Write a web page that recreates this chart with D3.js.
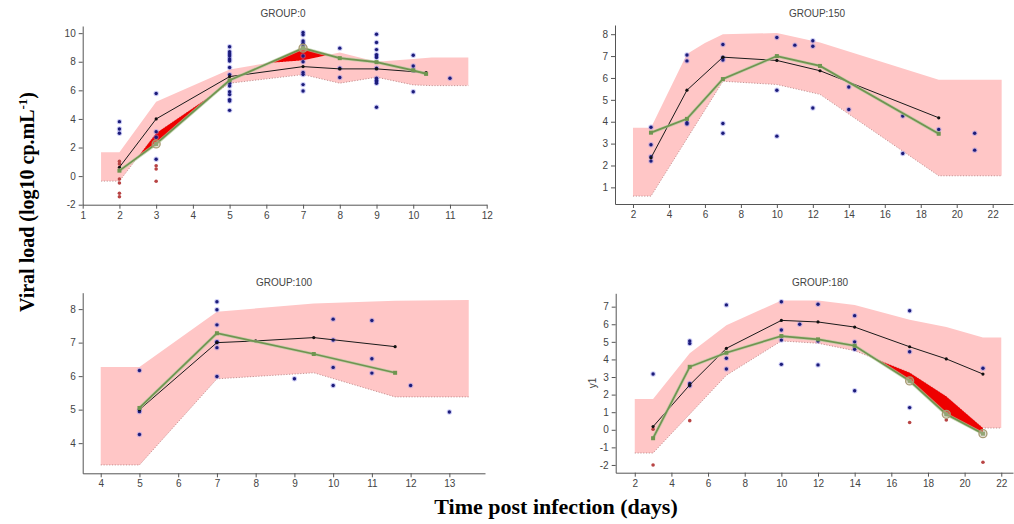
<!DOCTYPE html>
<html>
<head>
<meta charset="utf-8">
<script src="https://cdn.jsdelivr.net/npm/d3@7"></script>
<style>
  body { margin: 0; background: #fff; }
  svg { display: block; font-family: "Liberation Sans", Arial, sans-serif; }
  .axis path, .axis line { stroke: #555; }
  .axis text { fill: #444; font-size: 10px; font-family: "Liberation Sans", Arial, sans-serif; }
  .ptitle { fill: #444; font-size: 10px; }
</style>
</head>
<body>
<svg id="chart" width="1014" height="524"></svg>
<script>
// ---- GROUP:0 ----
const g0Upper = [[1.5,1.67],[2,1.67],[3,5.2],[5,7.45],[6,7.9],[7,8.1],[8,8.65],[9,8.0],[10,8.2],[10.5,8.3],[11.5,8.3]];
const g0Lower = [[1.5,-0.35],[2,-0.35],[3,3.0],[5,6.5],[7,7.1],[8,6.5],[9,6.92],[10,6.38],[10.5,6.33],[11.5,6.33]];
const g0Median = [[2,0.62],[3,4.0],[5,6.96],[7,7.66],[8,7.5],[9,7.5],[10.35,7.24]];
const g0ObsMedian = [[2,0.38],[3,2.25],[5,6.7],[7,8.95],[8,8.25],[9,7.97],[10,7.4],[10.35,7.15]];
const g0Obs = [
  [2,[3.81,3.3,3.0]],
  [3,[5.78,3.11,2.72,1.18]],
  [5,[9.05,8.7,8.55,8.4,8.2,8.05,7.6,7.1,6.5,6.3,5.9,5.7,5.35,5.25,4.6]],
  [7,[10.05,9.88,9.45,9.3,9.1,8.4,8.0,7.25,7.1,6.4,5.95]],
  [8,[8.95,7.55,6.9]],
  [9,[9.92,9.35,8.85,8.5,8.4,8.3,7.55,6.85,6.7,6.6,6.5,4.82]],
  [10,[8.45,7.7,7.4,5.9]],
  [11,[6.85]]
];
const g0Below = [[2,[1.03,0.85,-0.2,-0.48,-1.2,-1.44]],[3,[0.72,0.5,-0.36]]];

// ---- GROUP:150 ----
const g150Upper = [[2,3.72],[3,3.72],[5,7.1],[6,7.6],[7,8.0],[10,8.05],[12.4,7.62],[19,5.92],[22.5,5.92]];
const g150Lower = [[2,0.6],[3,0.6],[7,5.85],[10,5.7],[12.4,5.25],[19,1.53],[22.5,1.53]];
const g150Median = [[3,2.35],[5,5.44],[7,6.95],[10,6.8],[12.4,6.33],[19,4.18]];
const g150ObsMedian = [[3,3.5],[5,4.13],[7,5.95],[10,7.0],[12.4,6.55],[19,3.45]];
const g150Obs = [
  [3,[3.75,2.95,2.4,2.2]],
  [5,[7.05,6.78,3.95,3.9]],
  [7,[7.53,6.93,6.82,3.92,3.47]],
  [10,[7.85,5.44,3.34]],
  [11,[7.5]],
  [12,[7.7,7.45,4.63]],
  [14,[5.59,4.56]],
  [17,[4.26,2.55]],
  [19,[3.65]],
  [21,[3.47,2.7]]
];
const g150Below = [];

// ---- GROUP:100 ----
const g100Upper = [[4,6.27],[5,6.27],[7,7.92],[9.5,8.17],[11.6,8.25],[13.5,8.27]];
const g100Lower = [[4,3.35],[5,3.35],[7,5.92],[9.5,6.1],[11.6,5.38],[13.5,5.38]];
const g100Median = [[5,5.0],[7,7.0],[8,7.05],[9.5,7.15],[11.6,6.88]];
const g100ObsMedian = [[5,5.05],[7,7.28],[9.5,6.66],[11.6,6.1]];
const g100Obs = [
  [5,[6.17,4.99,4.94,4.26]],
  [7,[8.22,7.98,7.53,7.03,7.0,6.85,5.99]],
  [9,[5.92]],
  [10,[7.7,7.08,6.26,5.72]],
  [11,[7.66,6.52,6.09]],
  [12,[5.72]],
  [13,[4.93]]
];
const g100Below = [];

// ---- GROUP:180 ----
const g180Upper = [[2,1.75],[3,1.75],[5,4.35],[7,5.95],[10,7.35],[12,7.35],[14,7.1],[17,6.25],[19,5.85],[21,5.25],[22,5.25]];
const g180Lower = [[2,-1.32],[3,-1.32],[7,3.1],[10,5.05],[12,4.92],[14,4.5],[17,3.25],[19,1.9],[21,0.1],[22,0.1]];
const g180Median = [[3,0.18],[5,2.55],[7,4.63],[10,6.22],[12,6.13],[14,5.84],[17,4.72],[19,4.03],[21,3.17]];
const g180ObsMedian = [[3,-0.48],[5,3.58],[7,4.38],[10,5.33],[12,5.14],[14,4.78],[17,2.78],[19,0.88],[21,-0.22]];
const g180Obs = [
  [3,[3.17]],
  [5,[5.05,4.9,2.64,2.5]],
  [7,[7.1,4.07,3.46]],
  [10,[7.28,5.67,5.1,3.72]],
  [11,[6.0]],
  [12,[7.14,5.05,3.69]],
  [14,[6.49,5.0,4.58,2.22]],
  [17,[6.77,4.44,1.26]],
  [21,[3.5]]
];
const g180Below = [[3,[0.03,-2.0]],[5,[0.52]],[17,[0.41]],[19,[0.56]],[21,[-1.85]]];

// axis ticks
const g0XTicks = d3.range(1, 13);
const g0YTicks = [-2, 0, 2, 4, 6, 8, 10];
const g150XTicks = d3.range(2, 23, 2);
const g150YTicks = d3.range(1, 9);
const g100XTicks = d3.range(4, 14);
const g100YTicks = d3.range(4, 9);
const g180XTicks = d3.range(2, 23, 2);
const g180YTicks = d3.range(-2, 8);

// panel layout
const panels = [
  { title: "GROUP:0", upper: g0Upper, lower: g0Lower, median: g0Median, obsMedian: g0ObsMedian,
    obs: g0Obs, below: g0Below, xTicks: g0XTicks, yTicks: g0YTicks,
    xDomain: [1, 12], xRange: [82.7, 486.7], yDomain: [-2, 10.5], yRange: [204.7, 26], titleAt: [283, 17] },
  { title: "GROUP:150", upper: g150Upper, lower: g150Lower, median: g150Median, obsMedian: g150ObsMedian,
    obs: g150Obs, below: g150Below, xTicks: g150XTicks, yTicks: g150YTicks,
    xDomain: [1, 23.13], xRange: [615, 1013], yDomain: [0.24, 8.42], yRange: [204, 25], titleAt: [817, 17] },
  { title: "GROUP:100", upper: g100Upper, lower: g100Lower, median: g100Median, obsMedian: g100ObsMedian,
    obs: g100Obs, below: g100Below, xTicks: g100XTicks, yTicks: g100YTicks,
    xDomain: [3.535, 13.92], xRange: [82.7, 485], yDomain: [3.1, 8.49], yRange: [473.3, 292.7], titleAt: [284, 286] },
  { title: "GROUP:180", upper: g180Upper, lower: g180Lower, median: g180Median, obsMedian: g180ObsMedian,
    obs: g180Obs, below: g180Below, xTicks: g180XTicks, yTicks: g180YTicks,
    xDomain: [0.96, 22.64], xRange: [615.7, 1013], yDomain: [-2.44, 7.76], yRange: [472.7, 293.3], titleAt: [820, 286],
    yLabel: "y1" }
];

// piecewise-linear lookup along a polyline
function interp(pts, t) {
  if (t <= pts[0][0]) return pts[0][1];
  for (let i = 1; i < pts.length; i++) {
    if (t <= pts[i][0]) {
      const [x0, y0] = pts[i - 1], [x1, y1] = pts[i];
      return y0 + (y1 - y0) * (t - x0) / (x1 - x0);
    }
  }
  return pts[pts.length - 1][1];
}

const svg = d3.select("#chart");
const plain = d => String(d);

panels.forEach(p => {
  const x = d3.scaleLinear().domain(p.xDomain).range(p.xRange);
  const y = d3.scaleLinear().domain(p.yDomain).range(p.yRange);
  const g = svg.append("g");
  const line = d3.line().x(d => x(d[0])).y(d => y(d[1]));

  // prediction interval band
  const poly = p.upper.concat(p.lower.slice().reverse());
  g.append("path").attr("d", line(poly) + "Z").attr("fill", "#ffc6c6");
  g.append("path").attr("d", line(p.lower)).attr("fill", "none")
    .attr("stroke", "#b88080").attr("stroke-width", 0.8).attr("stroke-dasharray", "1.2,1.6");

  // observed median falling outside the interval
  const t0 = p.obsMedian[0][0], t1 = p.obsMedian[p.obsMedian.length - 1][0];
  const ts = d3.range(t0, t1, 0.004).concat([t1]);
  const over = ts.map(t => {
    const m = interp(p.obsMedian, t), u = interp(p.upper, t);
    return [t, u, Math.max(m, u)];
  });
  const under = ts.map(t => {
    const m = interp(p.obsMedian, t), l = interp(p.lower, t);
    return [t, l, Math.min(m, l)];
  });
  const area = d3.area().x(d => x(d[0])).y0(d => y(d[1])).y1(d => y(d[2]));
  g.append("path").attr("d", area(over)).attr("fill", "#ee0000");
  g.append("path").attr("d", area(under)).attr("fill", "#ee0000");

  // axes
  g.append("g").attr("class", "axis")
    .attr("transform", `translate(0,${p.yRange[0]})`)
    .call(d3.axisBottom(x).tickValues(p.xTicks).tickFormat(plain).tickSize(4).tickSizeOuter(0).tickPadding(3));
  g.append("g").attr("class", "axis")
    .attr("transform", `translate(${p.xRange[0]},0)`)
    .call(d3.axisLeft(y).tickValues(p.yTicks).tickFormat(plain).tickSize(4).tickSizeOuter(0).tickPadding(3));

  // observations
  const flat = groups => groups.flatMap(([day, vals]) => vals.map(v => [day, v]));
  g.selectAll(null).data(flat(p.obs)).join("circle")
    .attr("cx", d => x(d[0])).attr("cy", d => y(d[1])).attr("r", 2.7)
    .attr("fill", "#8c8ce8").attr("opacity", 0.45);
  g.selectAll(null).data(flat(p.obs)).join("circle")
    .attr("cx", d => x(d[0])).attr("cy", d => y(d[1])).attr("r", 1.7)
    .attr("fill", "#1c1c7a");
  g.selectAll(null).data(flat(p.below)).join("circle")
    .attr("cx", d => x(d[0])).attr("cy", d => y(d[1])).attr("r", 1.8)
    .attr("fill", "#b84444");

  // predicted median
  g.append("path").attr("d", line(p.median)).attr("fill", "none")
    .attr("stroke", "#1a1a1a").attr("stroke-width", 1);
  g.selectAll(null).data(p.median).join("circle")
    .attr("cx", d => x(d[0])).attr("cy", d => y(d[1])).attr("r", 1.6).attr("fill", "#111");

  // observed median
  g.append("path").attr("d", line(p.obsMedian)).attr("fill", "none")
    .attr("stroke", "#b6c9a0").attr("stroke-width", 3.2).attr("opacity", 0.7);
  g.append("path").attr("d", line(p.obsMedian)).attr("fill", "none")
    .attr("stroke", "#6f9550").attr("stroke-width", 1.7);
  g.selectAll(null).data(p.obsMedian).join("rect")
    .attr("x", d => x(d[0]) - 2).attr("y", d => y(d[1]) - 2).attr("width", 4).attr("height", 4)
    .attr("fill", "#6f9550");

  // rings on observed-median points outside the interval
  const outside = p.obsMedian.filter(d => d[1] > interp(p.upper, d[0]) || d[1] < interp(p.lower, d[0]));
  g.selectAll(null).data(outside).join("circle")
    .attr("cx", d => x(d[0])).attr("cy", d => y(d[1])).attr("r", 4)
    .attr("fill", "rgba(190,185,160,0.45)").attr("stroke", "#a89a72").attr("stroke-width", 1.3);

  // panel title
  g.append("text").attr("class", "ptitle")
    .attr("x", p.titleAt[0]).attr("y", p.titleAt[1]).attr("text-anchor", "middle").text(p.title);

  if (p.yLabel) {
    g.append("text").attr("class", "ptitle")
      .attr("transform", `translate(${p.xRange[0] - 20},${(p.yRange[0] + p.yRange[1]) / 2}) rotate(-90)`)
      .attr("text-anchor", "middle").text(p.yLabel);
  }
});

// shared axis titles
const yTitle = svg.append("text")
  .attr("transform", "translate(34,202) rotate(-90)")
  .attr("text-anchor", "middle")
  .style("font-family", "'Liberation Serif', 'Times New Roman', serif")
  .style("font-weight", "bold").style("font-size", "20px").attr("fill", "#000");
yTitle.append("tspan").text("Viral load (log10 cp.mL");
yTitle.append("tspan").attr("dy", -7).style("font-size", "13px").text("-1");
yTitle.append("tspan").attr("dy", 7).text(")");

svg.append("text")
  .attr("x", 556).attr("y", 514).attr("text-anchor", "middle")
  .style("font-family", "'Liberation Serif', 'Times New Roman', serif")
  .style("font-weight", "bold").style("font-size", "22px").attr("fill", "#000")
  .text("Time post infection (days)");
</script>
</body>
</html>
